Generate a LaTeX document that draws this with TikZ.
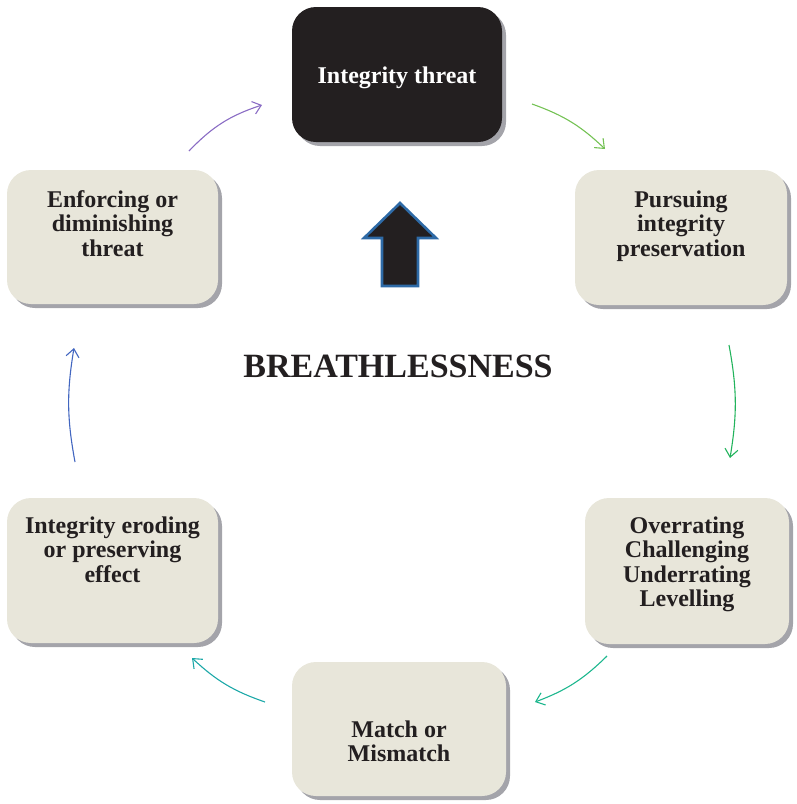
\documentclass[tikz,border=0pt]{standalone}
\usepackage{fontspec}
\setmainfont{Liberation Serif}
\usetikzlibrary{arrows.meta,shadows}

\definecolor{boxfill}{HTML}{E8E6DA}
\definecolor{shade}{HTML}{A4A4AA}
\definecolor{ink}{HTML}{231F20}
\definecolor{upblue}{HTML}{2E6AA6}
\definecolor{cPurple}{HTML}{8A6CC4}
\definecolor{cLime}{HTML}{74C254}
\definecolor{cGreen}{HTML}{22B35C}
\definecolor{cSea}{HTML}{1DB78E}
\definecolor{cTeal}{HTML}{1CA8A8}
\definecolor{cBlue}{HTML}{4266C0}

\begin{document}
\begin{tikzpicture}[x=1pt,y=-1pt,
  cardbox/.style={fill=boxfill, rounded corners=24pt, inner sep=0pt,
    drop shadow={shadow xshift=4pt, shadow yshift=-4pt, fill=shade, opacity=1}},
  cardtext/.style={align=center, inner sep=0pt, text=ink,
    font=\bfseries\fontsize{24}{24.5}\selectfont},
  flow/.style={line width=1.1pt, -{Straight Barb[length=8pt,width=13pt,line width=1.1pt]}},
  upshape/.style={fill=ink, draw=upblue, line width=2.6pt, line join=miter}
]
\useasboundingbox (0,0) rectangle (796,804);

% the six stages of the cycle
\node[cardbox, fill=ink, minimum width=210pt, minimum height=135pt] (threat) at (397,74.5) {};
\node[cardbox, minimum width=212pt, minimum height=135pt] (pursue) at (681,237.5) {};
\node[cardbox, minimum width=204pt, minimum height=146pt] (rate) at (687,571) {};
\node[cardbox, minimum width=214pt, minimum height=134pt] (match) at (399,729) {};
\node[cardbox, minimum width=211pt, minimum height=145pt] (effect) at (112.5,570.5) {};
\node[cardbox, minimum width=211pt, minimum height=134pt] (enforce) at (112.5,237) {};

% stage labels
\node[cardtext, text=white, anchor=base] (threat-t) at (397,83) {Integrity threat};
\node[cardtext, anchor=north] (pursue-t) at ([yshift=-20.5pt]pursue.north) {Pursuing\\integrity\\preservation};
\node[cardtext, anchor=north] (rate-t) at ([yshift=-18.5pt]rate.north) {Overrating\\Challenging\\Underrating\\Levelling};
\node[cardtext, anchor=north] (match-t) at (399,720.5) {Match or\\Mismatch};
\node[cardtext, anchor=north] (effect-t) at ([yshift=-18.5pt]effect.north) {Integrity eroding\\or preserving\\effect};
\node[cardtext, anchor=north] (enforce-t) at ([yshift=-20.5pt]enforce.north) {Enforcing or\\diminishing\\threat};

% centre: title and upward arrow
\node[anchor=base, text=ink, inner sep=0pt, font=\bfseries\fontsize{34}{40}\selectfont] (title) at (398,377) {BREATHLESSNESS};
\draw[upshape] (400,203) -- (436,238) -- (418,238) -- (418,286) -- (382,286) -- (382,238) -- (364,238) -- cycle;

% connectors between the stages
\coordinate (a1s) at (189,151);  \coordinate (a1e) at (262,105);
\coordinate (a2s) at (532,104);  \coordinate (a2e) at (605,149);
\coordinate (a3s) at (729,345);  \coordinate (a3e) at (730,458);
\coordinate (a4s) at (607,656);  \coordinate (a4e) at (535,702);
\coordinate (a5s) at (265,702);  \coordinate (a5e) at (192,658);
\coordinate (a6s) at (75,462);   \coordinate (a6e) at (74,348);

\draw[flow, cPurple] (a1s) to[bend left=14] (a1e);
\draw[flow, cLime]   (a2s) to[bend left=12] (a2e);
\draw[flow, cGreen]  (a3s) to[bend left=10] (a3e);
\draw[flow, cSea]    (a4s) to[bend left=12] (a4e);
\draw[flow, cTeal]   (a5s) to[bend left=12] (a5e);
\draw[flow, cBlue]   (a6s) to[bend left=10] (a6e);
\end{tikzpicture}
\end{document}
